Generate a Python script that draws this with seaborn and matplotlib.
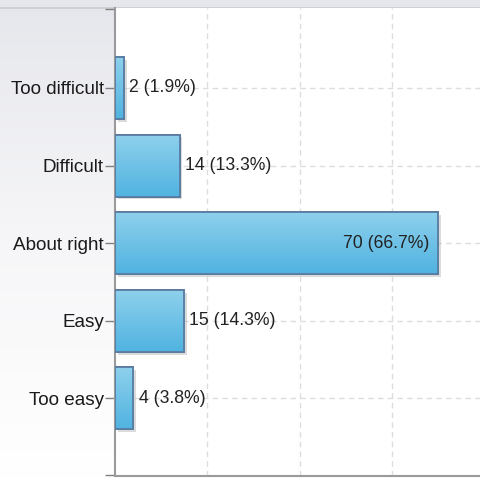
import matplotlib
matplotlib.use("Agg")
import matplotlib.pyplot as plt
import matplotlib.patheffects as pe
import seaborn as sns
import numpy as np
import pandas as pd

# survey answers
categories = ["Too difficult", "Difficult", "About right", "Easy", "Too easy"]
counts = [2, 14, 70, 15, 4]
percents = [1.9, 13.3, 66.7, 14.3, 3.8]

sns.set_style("white")
plt.rcParams['font.family'] = ['Liberation Sans', 'DejaVu Sans']

df = pd.DataFrame({"answer": categories, "count": counts})

fig = plt.figure(figsize=(4.8, 4.79), dpi=100)

# background gradient (gray on top fading to white)
bg = fig.add_axes([0, 0, 1, 1], zorder=-5)
grad = np.linspace(0, 1, 256).reshape(-1, 1)
bg.imshow(grad, aspect="auto", extent=[0, 1, 0, 1],
          cmap=matplotlib.colors.LinearSegmentedColormap.from_list(
              "bgc", ["#ffffff", "#f6f6f8", "#e6e7ec"]), origin="lower")
bg.axhline(0.984, color="#cfd0d4", lw=1.5)
bg.set_axis_off()

ax = fig.add_axes([115 / 480, 3 / 479, 1 - 115 / 480, (476 - 8) / 479])
sns.barplot(data=df, x="count", y="answer", orient="h", ax=ax,
            width=0.8, color="#6cc2e7", edgecolor="#5b7ba0", linewidth=1.3,
            zorder=3)

cmap_bar = matplotlib.colors.LinearSegmentedColormap.from_list(
    "bar", ["#50b3e1", "#8fd1ec"])
for p in ax.patches:
    p.set_path_effects([pe.SimplePatchShadow(offset=(2, -2), shadow_rgbFace="#b8b8b8", alpha=0.5),
                        pe.Normal()])
    x0, y0 = p.get_x(), p.get_y()
    w, h = p.get_width(), p.get_height()
    im = ax.imshow(grad, aspect="auto", cmap=cmap_bar, origin="lower",
                   extent=[x0, x0 + w, y0 + h, y0], zorder=3.5)
    im.set_clip_path(p)
    # outline on top
    ax.add_patch(matplotlib.patches.Rectangle((x0, y0), w, h, fill=False,
                                              edgecolor="#5b7ba0", lw=1.3, zorder=4))

for i, (c, pc) in enumerate(zip(counts, percents)):
    txt = f"{c} ({pc}%)"
    if c > 50:
        ax.text(c - 2.0, i, txt, ha="right", va="center", fontsize=12.7,
                color="#222222", zorder=6)
    else:
        ax.text(c + 1.1, i, txt, ha="left", va="center", fontsize=12.7,
                color="#222222", zorder=6)

ax.set_xlim(0, 79)
ax.set_ylim(5.0, -1.03)
ax.set_xticks([20, 40, 60])
ax.set_xticklabels([])
ax.set_yticks(range(len(categories)))
ax.set_yticklabels(categories, fontsize=13.6, color="#1a1a1a")
ax.set_yticks([-1.02, 4.99], minor=True)
ax.set_xlabel("")
ax.set_ylabel("")
ax.grid(True, axis="both", which="major", linestyle=(0, (4, 3)), color="#dddddd", lw=1, zorder=0)
ax.set_axisbelow(True)
ax.tick_params(axis="y", which="both", left=True, length=7, width=1, color="#808080", pad=1)
ax.tick_params(axis="x", bottom=False)
for s in ["top", "right"]:
    ax.spines[s].set_visible(False)
for s in ["left", "bottom"]:
    ax.spines[s].set_color("#9a9a9a")
    ax.spines[s].set_linewidth(1.5)
ax.patch.set_facecolor("white")

fig.savefig("out.png", dpi=100)
